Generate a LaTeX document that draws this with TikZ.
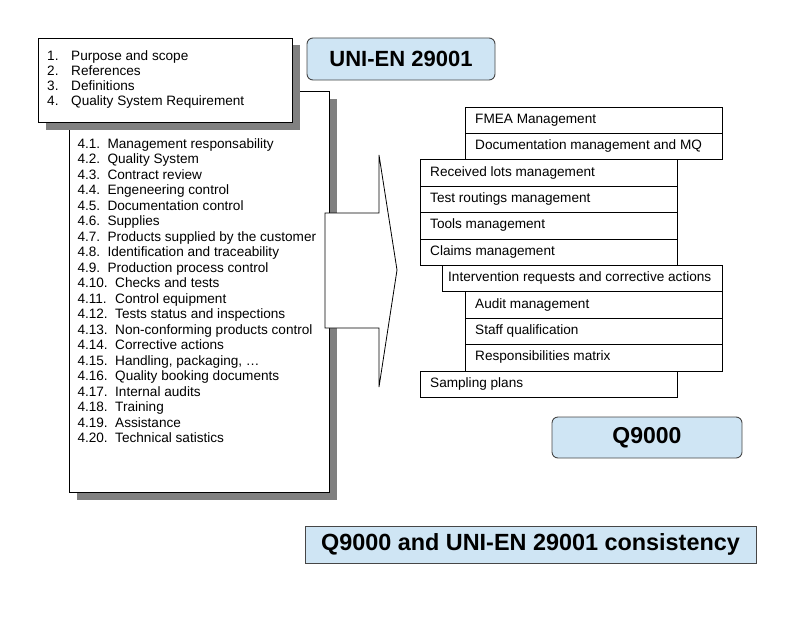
\documentclass[tikz,border=0pt]{standalone}
\usepackage{fontspec}
\setmainfont{Liberation Sans}
\definecolor{titlefill}{RGB}{207,229,244}
\definecolor{titleline}{RGB}{70,70,70}
\definecolor{shadowgray}{RGB}{128,128,128}
\begin{document}
\begin{tikzpicture}[x=1pt,y=-1pt,
  txt/.style={anchor=base west,inner sep=0pt,font=\fontsize{13.6}{15.3}\selectfont},
  listbox/.style={draw=black,fill=white,line width=0.9pt},
  rowline/.style={draw=black,line width=0.8pt},
  titlebox/.style={draw=titleline,fill=titlefill,line width=0.9pt,rounded corners=6pt,
    inner sep=0pt,font=\bfseries\fontsize{22}{26}\selectfont},
  plainbox/.style={draw=titleline,fill=titlefill,line width=0.9pt,
    inner sep=0pt,font=\bfseries\fontsize{23.4}{27}\selectfont}]
\useasboundingbox (0,0) rectangle (794,634);
% big list box with shadow
\fill[shadowgray] (76.5,98.5) rectangle (337,500);
\draw[listbox] (69,91) rectangle (329.5,492.5);
% top list box with shadow
\fill[shadowgray] (45.5,45.5) rectangle (299.5,129.5);
\draw[listbox] (38.3,38.3) rectangle (292,122);
% arrow
\draw[fill=white,line width=0.8pt] (325,213) -- (379,213) -- (379,155) -- (397,270)
  -- (379,387) -- (379,328) -- (325,328) -- cycle;
% top list
\foreach \n/\t [count=\i] in {1./Purpose and scope,2./References,3./Definitions,4./Quality System Requirement}{
  \node[txt] (tn\i) at (47,{60+15.3*(\i-1)}) {\n};
  \node[txt] (tt\i) at (71,{60+15.3*(\i-1)}) {\t};
}
% sub list 4.1 - 4.9
\foreach \n/\t [count=\i from 0] in {4.1./Management responsability,4.2./Quality System,4.3./Contract review,
  4.4./Engeneering control,4.5./Documentation control,4.6./Supplies,
  4.7./Products supplied by the customer,4.8./Identification and traceability,
  4.9./Production process control}{
  \node[txt] (sn\i) at (77.3,{148.3+15.5*\i}) {\n};
  \node[txt] (st\i) at (107.3,{148.3+15.5*\i}) {\t};
}
% sub list 4.10 - 4.20
\foreach \n/\t [count=\i from 9] in {4.10./Checks and tests,4.11./Control equipment,
  4.12./Tests status and inspections,4.13./Non-conforming products control,
  4.14./Corrective actions,4.15./{Handling, packaging, …},4.16./Quality booking documents,
  4.17./Internal audits,4.18./Training,4.19./Assistance,4.20./Technical satistics}{
  \node[txt] (sn\i) at (77.3,{148.3+15.5*\i}) {\n};
  \node[txt] (st\i) at (115,{148.3+15.5*\i}) {\t};
}
% titles
\node[titlebox,minimum width=188pt,minimum height=42pt] (uni) at (401,59) {UNI-EN 29001};
\node[titlebox,font=\bfseries\fontsize{23}{27}\selectfont,minimum width=190pt,minimum height=41pt] (q9) at (647,437.5) {Q9000};
\node[plainbox,minimum width=451pt,minimum height=37pt] (cons) at (530.5,544.5) {Q9000 and UNI-EN 29001 consistency};
% right rows
\foreach \x/\w/\p/\t [count=\k from 0] in {465/257/10/FMEA Management,465/257/10/Documentation management and MQ,
  420/257/10/Received lots management,420/257/10/Test routings management,420/257/10/Tools management,
  420/257/10/Claims management,442/280/6/Intervention requests and corrective actions,
  465/257/10/Audit management,465/257/10/Staff qualification,465/257/10/Responsibilities matrix,
  420/257/10/Sampling plans}{
  \draw[rowline] (\x,{107+26.4*\k}) rectangle ++(\w,26.4);
  \node[txt] (r\k) at ({\x+\p},{123.3+26.4*\k}) {\t};
}
\end{tikzpicture}
\end{document}
